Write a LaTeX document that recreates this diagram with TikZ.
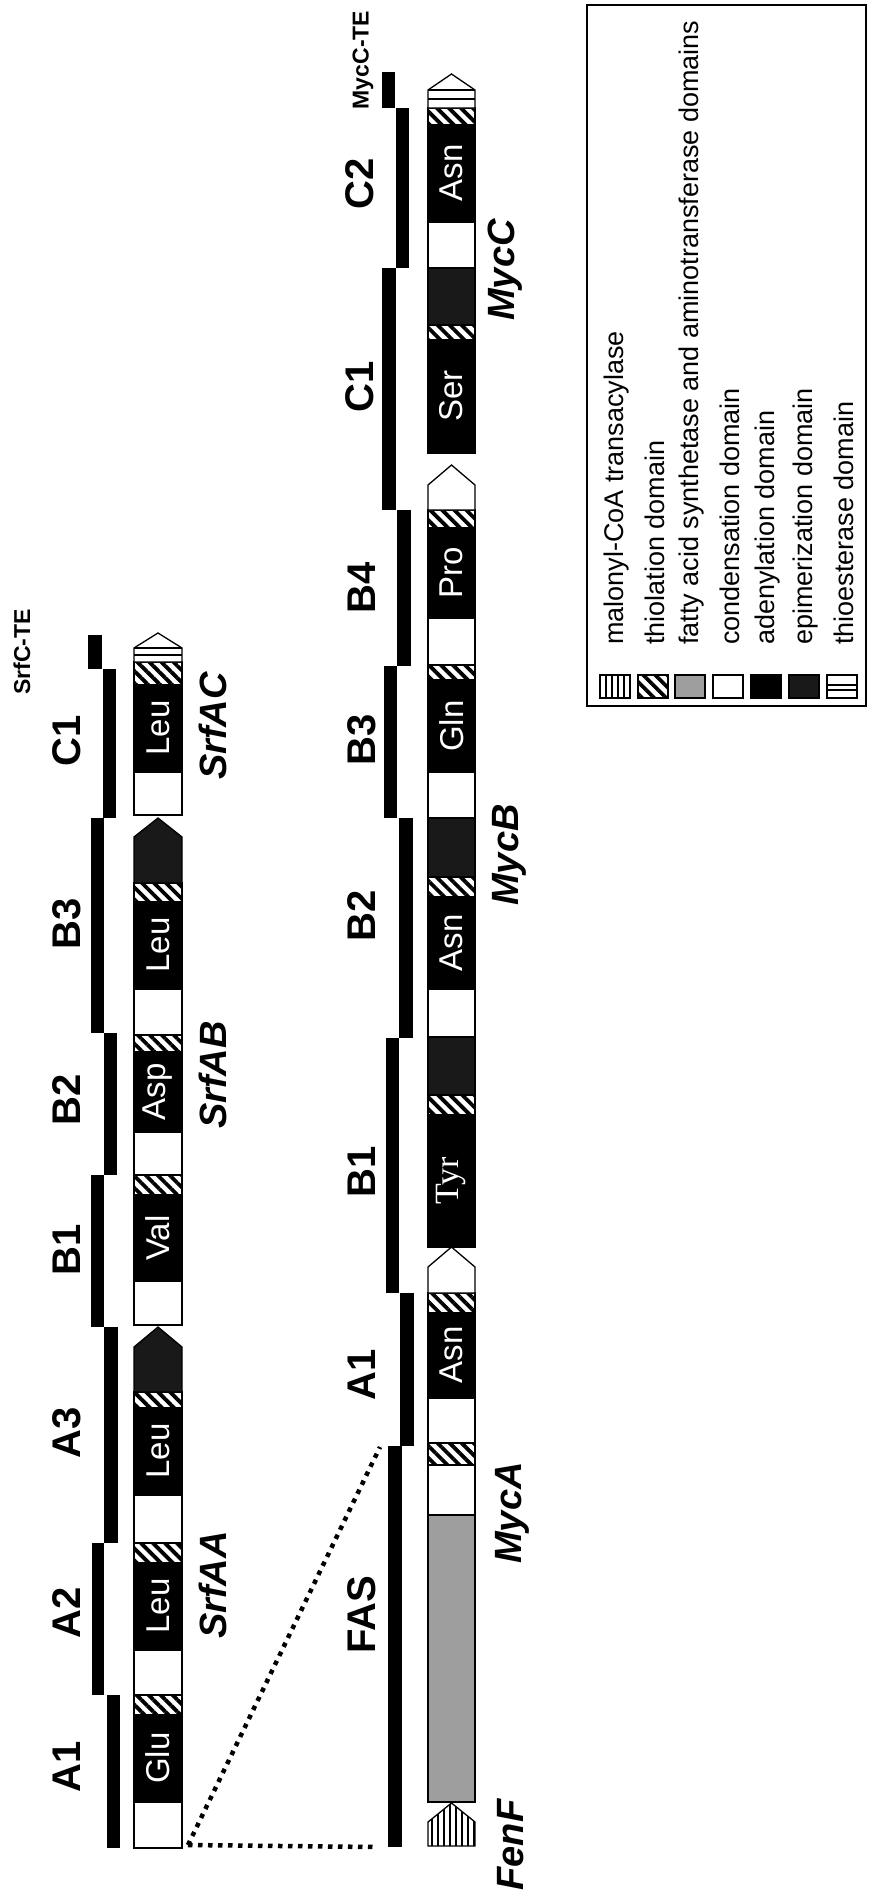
\documentclass[tikz,border=0pt]{standalone}
\usepackage{fontspec}
\setmainfont{Liberation Sans}
\newfontfamily\seriffont{Liberation Serif}
\usetikzlibrary{patterns.meta}
\begin{document}
\begin{tikzpicture}[x=1pt,y=-1pt,
  dbase/.style={draw=black,line width=1.3pt},
  cdom/.style={dbase,fill=white},
  adom/.style={dbase,fill=black},
  tdom/.style={dbase,pattern={Lines[angle=-45,distance=8.5pt,line width=3.8pt]}},
  edom/.style={dbase,fill=black!90},
  fdom/.style={dbase,fill=black!38},
  mdom/.style={dbase,pattern={Lines[angle=90,distance=6pt,line width=1.3pt]}},
  tedom/.style={dbase,fill=white},
  genebar/.style={fill=black},
  modlabel/.style={rotate=90,inner sep=0pt,font=\fontsize{40}{40}\selectfont\bfseries},
  genelabel/.style={rotate=90,inner sep=0pt,font=\fontsize{38}{38}\selectfont\bfseries\itshape},
  aalabel/.style={rotate=90,inner sep=0pt,text=white,font=\fontsize{33}{33}\selectfont},
  telabel/.style={rotate=90,inner sep=0pt,font=\fontsize{23}{23}\selectfont\bfseries},
  legtext/.style={rotate=90,anchor=west,inner sep=0pt,font=\fontsize{27}{27}\selectfont},
  dotline/.style={line width=4.5pt,dash pattern=on 4.5pt off 5.5pt}
]
\useasboundingbox (0,0) rectangle (869,1895);

% ---------------- Srf gene bars ----------------
\fill[genebar] (107,1695) rectangle (120,1848);
\fill[genebar] (92,1543) rectangle (104,1695);
\fill[genebar] (104,1327) rectangle (118,1543);
\fill[genebar] (91,1175) rectangle (104,1327);
\fill[genebar] (104,1033) rectangle (117,1175);
\fill[genebar] (91,818) rectangle (104,1033);
\fill[genebar] (103,669) rectangle (116,818);
\fill[genebar] (88,635) rectangle (102,669);

% ---------------- Srf modules (x 134-182) ----------------
\draw[cdom] (134,1802) rectangle (182,1848);
\draw[adom] (134,1715) rectangle (182,1802);
\draw[tdom] (134,1695) rectangle (182,1715);
\draw[cdom] (134,1650) rectangle (182,1695);
\draw[adom] (134,1563) rectangle (182,1650);
\draw[tdom] (134,1543) rectangle (182,1563);
\draw[cdom] (134,1495) rectangle (182,1543);
\draw[adom] (134,1408) rectangle (182,1495);
\draw[tdom] (134,1392) rectangle (182,1408);
\draw[edom] (134,1392) -- (134,1347) -- (158,1327) -- (182,1347) -- (182,1392) -- cycle;
\draw[cdom] (134,1281) rectangle (182,1325);
\draw[adom] (134,1195) rectangle (182,1281);
\draw[tdom] (134,1175) rectangle (182,1195);
\draw[cdom] (134,1132) rectangle (182,1175);
\draw[adom] (134,1052) rectangle (182,1132);
\draw[tdom] (134,1035) rectangle (182,1052);
\draw[cdom] (134,989) rectangle (182,1035);
\draw[adom] (134,902) rectangle (182,989);
\draw[tdom] (134,883) rectangle (182,902);
\draw[edom] (134,883) -- (134,837) -- (158,818) -- (182,837) -- (182,883) -- cycle;
\draw[cdom] (134,772) rectangle (182,815);
\draw[adom] (134,685) rectangle (182,772);
\draw[tdom] (134,662) rectangle (182,685);
\draw[tedom] (134,662) -- (134,648) -- (158,633) -- (182,648) -- (182,662) -- cycle;
\draw[dbase] (134,648) -- (182,648);
\draw[dbase] (134,655) -- (182,655);

\node[aalabel] (glu) at (158,1758) {Glu};
\node[aalabel] (leua) at (158,1606) {Leu};
\node[aalabel] (leub) at (158,1451) {Leu};
\node[aalabel] (val) at (158,1238) {Val};
\node[aalabel] (asp) at (158,1092) {Asp};
\node[aalabel] (leuc) at (158,945) {Leu};
\node[aalabel] (leud) at (158,728) {Leu};

\node[modlabel] (sa1) at (67,1767) {A1};
\node[modlabel] (sa2) at (67,1613) {A2};
\node[modlabel] (sa3) at (67,1433) {A3};
\node[modlabel] (sb1) at (67,1250) {B1};
\node[modlabel] (sb2) at (67,1100) {B2};
\node[modlabel] (sb3) at (67,924) {B3};
\node[modlabel] (sc1) at (67,741) {C1};
\node[telabel] (srfte) at (22,652) {SrfC-TE};

\node[genelabel] (srfaa) at (213,1585) {SrfAA};
\node[genelabel] (srfab) at (213,1075) {SrfAB};
\node[genelabel] (srfac) at (213,726) {SrfAC};

% ---------------- Myc gene bars ----------------
\fill[genebar] (388,1446) rectangle (402,1847);
\fill[genebar] (400,1293) rectangle (414,1446);
\fill[genebar] (386,1038) rectangle (399,1293);
\fill[genebar] (399,818) rectangle (413,1038);
\fill[genebar] (384,666) rectangle (397,818);
\fill[genebar] (397,510) rectangle (411,666);
\fill[genebar] (382,268) rectangle (396,510);
\fill[genebar] (396,108) rectangle (409,268);
\fill[genebar] (382,72) rectangle (395,108);

% ---------------- Myc modules (x 428-475) ----------------
\draw[mdom] (428,1846) -- (428,1822) -- (451.5,1803) -- (475,1822) -- (475,1846) -- cycle;
\draw[fdom] (428,1515) rectangle (475,1802);
\draw[cdom] (428,1465) rectangle (475,1515);
\draw[tdom] (428,1443) rectangle (475,1465);
\draw[cdom] (428,1398) rectangle (475,1443);
\draw[adom] (428,1313) rectangle (475,1398);
\draw[tdom] (428,1293) rectangle (475,1313);
\draw[cdom] (428,1293) -- (428,1267) -- (451.5,1247) -- (475,1267) -- (475,1293) -- cycle;
\draw[adom] (428,1115) rectangle (475,1247);
\draw[tdom] (428,1095) rectangle (475,1115);
\draw[edom] (428,1037) rectangle (475,1095);
\draw[cdom] (428,989) rectangle (475,1037);
\draw[adom] (428,897) rectangle (475,989);
\draw[tdom] (428,877) rectangle (475,897);
\draw[edom] (428,818) rectangle (475,877);
\draw[cdom] (428,772) rectangle (475,818);
\draw[adom] (428,680) rectangle (475,772);
\draw[tdom] (428,665) rectangle (475,680);
\draw[cdom] (428,618) rectangle (475,665);
\draw[adom] (428,528) rectangle (475,618);
\draw[tdom] (428,510) rectangle (475,528);
\draw[cdom] (428,510) -- (428,485) -- (451.5,465) -- (475,485) -- (475,510) -- cycle;
\draw[adom] (428,340) rectangle (475,453);
\draw[tdom] (428,325) rectangle (475,340);
\draw[edom] (428,268) rectangle (475,325);
\draw[cdom] (428,222) rectangle (475,268);
\draw[adom] (428,125) rectangle (475,222);
\draw[tdom] (428,108) rectangle (475,125);
\draw[tedom] (428,108) -- (428,90) -- (451.5,74) -- (475,90) -- (475,108) -- cycle;
\draw[dbase] (428,90) -- (475,90);
\draw[dbase] (428,99) -- (475,99);

\node[aalabel] (asna) at (451.5,1355) {Asn};
\node[aalabel,font=\fontsize{34}{34}\selectfont\seriffont] (tyr) at (451.5,1181) {Tyr};
\node[aalabel] (asnb) at (451.5,943) {Asn};
\node[aalabel] (gln) at (451.5,726) {Gln};
\node[aalabel] (pro) at (451.5,573) {Pro};
\node[aalabel] (ser) at (451.5,396) {Ser};
\node[aalabel] (asnc) at (451.5,173) {Asn};

\node[modlabel] (mfas) at (362,1615) {FAS};
\node[modlabel] (ma1) at (362,1375) {A1};
\node[modlabel] (mb1) at (362,1172) {B1};
\node[modlabel] (mb2) at (362,916) {B2};
\node[modlabel] (mb3) at (362,740) {B3};
\node[modlabel] (mb4) at (362,588) {B4};
\node[modlabel] (mc1) at (360,387) {C1};
\node[modlabel] (mc2) at (360,184) {C2};
\node[telabel] (mycte) at (363,60) {MycC-TE};

\node[genelabel] (fenf) at (511,1845) {FenF};
\node[genelabel] (myca) at (512,1513) {MycA};
\node[genelabel] (mycb) at (509,855) {MycB};
\node[genelabel] (mycc) at (505,270) {MycC};

% ---------------- dotted connectors ----------------
\coordinate (srfcorner) at (188,1845);
\coordinate (fastop) at (380,1447);
\coordinate (fasbot) at (376,1847);
\draw[dotline] (srfcorner) -- (fastop);
\draw[dotline] (srfcorner) -- (fasbot);

% ---------------- legend ----------------
\draw[line width=1.5pt] (587,5) rectangle (866,706);
\draw[mdom] (600,675) rectangle (630,698);
\draw[tdom] (638,675) rectangle (668,698);
\draw[fdom] (675,675) rectangle (705,698);
\draw[cdom] (713,675) rectangle (743,698);
\draw[adom] (751,675) rectangle (781,698);
\draw[edom] (789,675) rectangle (819,698);
\draw[tedom] (827,675) rectangle (857,698);
\draw[dbase] (827,685) -- (857,685);
\draw[dbase] (827,690) -- (857,690);
\node[legtext] (l1) at (617,645) {malonyl-CoA transacylase};
\node[legtext] (l2) at (655,645) {thiolation domain};
\node[legtext] (l3) at (692,645) {fatty acid synthetase and aminotransferase domains};
\node[legtext] (l4) at (730,645) {condensation domain};
\node[legtext] (l5) at (768,645) {adenylation domain};
\node[legtext] (l6) at (806,645) {epimerization domain};
\node[legtext] (l7) at (844,645) {thioesterase domain};
\end{tikzpicture}
\end{document}
